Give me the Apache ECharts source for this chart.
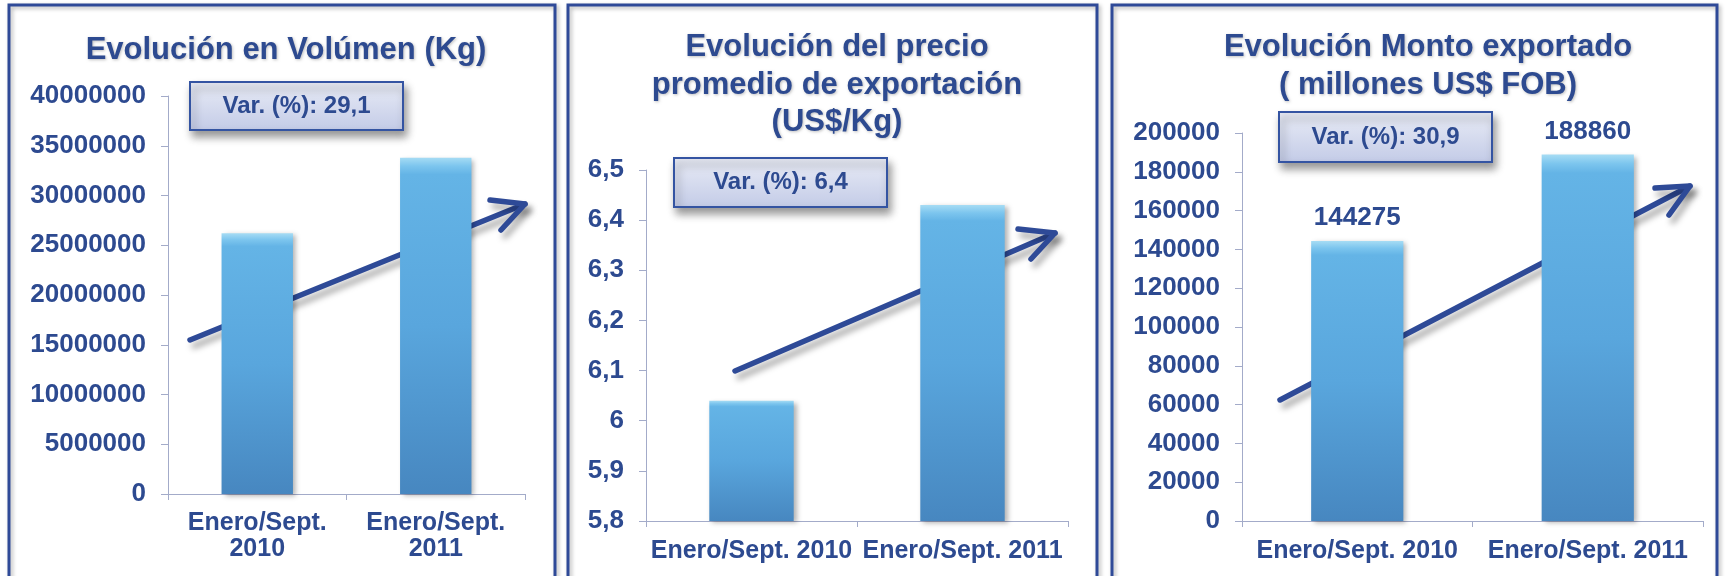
<!DOCTYPE html>
<html>
<head>
<meta charset="utf-8">
<script src="https://cdn.jsdelivr.net/npm/echarts@6/dist/echarts.min.js"></script>
<style>
html,body{margin:0;padding:0;background:#fff;}
#c{width:1726px;height:576px;}
</style>
</head>
<body>
<div id="c"></div>
<script>
// ---- data ----
const categoriesTwoLine = ['Enero/Sept.\n2010', 'Enero/Sept.\n2011'];
const categories = ['Enero/Sept. 2010', 'Enero/Sept. 2011'];
const volumenKg = [26200000, 33800000];
const precioUsdKg = [6.04, 6.43];
const montoUsd = [144275, 188860];
const varLabels = ['Var. (%): 29,1', 'Var. (%): 6,4', 'Var. (%): 30,9'];
const titles = [
  'Evolución en Volúmen (Kg)',
  'Evolución del precio\npromedio de exportación\n(US$/Kg)',
  'Evolución Monto exportado\n( millones US$ FOB)'
];

const FONT = '"Liberation Sans", Arial, sans-serif';
const TXT = '#2d4a90';
const FRAME = '#2f4a98';
const AXIS = '#a3abc9';

const barStyle = {
  color: new echarts.graphic.LinearGradient(0, 0, 0, 1, [
    {offset: 0, color: '#a6dcf4'},
    {offset: 0.025, color: '#7cc5ee'},
    {offset: 0.05, color: '#64b4e6'},
    {offset: 0.5, color: '#59a6dd'},
    {offset: 1, color: '#4787c0'}
  ]),
  shadowColor: 'rgba(0,0,0,0.3)',
  shadowBlur: 5,
  shadowOffsetX: 3,
  shadowOffsetY: 2
};

function yAxis(gi, min, max, interval, fmt) {
  return {
    type: 'value', gridIndex: gi, min: min, max: max, interval: interval,
    splitLine: {show: false},
    axisLine: {show: true, lineStyle: {color: AXIS, width: 1}},
    axisTick: {show: true, length: 7, lineStyle: {color: AXIS}},
    axisLabel: {color: TXT, fontFamily: FONT, fontWeight: 'bold', fontSize: 26, margin: 22, formatter: fmt}
  };
}
function xAxis(gi, data, lh, margin) {
  return {
    type: 'category', gridIndex: gi, data: data,
    axisLine: {show: true, lineStyle: {color: AXIS, width: 1}},
    axisTick: {show: true, length: 6, lineStyle: {color: AXIS}},
    axisLabel: {color: TXT, fontFamily: FONT, fontWeight: 'bold', fontSize: 25, lineHeight: lh, margin: margin, interval: 0}
  };
}
function frame(x1, x2) {
  return {type: 'rect', z: 1, shape: {x: x1, y: 5, width: x2 - x1, height: 600},
    style: {fill: 'none', stroke: FRAME, lineWidth: 3, shadowColor: 'rgba(0,0,0,0.3)', shadowBlur: 4, shadowOffsetX: 2, shadowOffsetY: 2}};
}
function varBox(x1, y1, x2, y2, text) {
  return {type: 'group', z: 20, children: [
    {type: 'rect', shape: {x: x1, y: y1, width: x2 - x1, height: y2 - y1},
      style: {fill: new echarts.graphic.LinearGradient(0, 0, 0, 1, [{offset: 0, color: '#e9ecf6'}, {offset: 1, color: '#c3cbe7'}]),
        stroke: '#3454a2', lineWidth: 2, shadowColor: 'rgba(0,0,0,0.4)', shadowBlur: 8, shadowOffsetX: 3, shadowOffsetY: 6}},
    {type: 'text', x: (x1 + x2) / 2, y: (y1 + y2) / 2,
      style: {text: text, fill: TXT, font: 'bold 24px ' + FONT, align: 'center', verticalAlign: 'middle'}}
  ]};
}
function arrow(s, t, h1, h2) {
  const st = {stroke: '#2e4a97', lineWidth: 5.5, lineCap: 'round', lineJoin: 'round', fill: 'none',
    shadowColor: 'rgba(0,0,0,0.35)', shadowBlur: 6, shadowOffsetX: 4, shadowOffsetY: 6};
  return {type: 'group', z: 30, children: [
    {type: 'polyline', shape: {points: [s, t]}, style: st},
    {type: 'polyline', shape: {points: [h1, t, h2]}, style: st}
  ]};
}
const titleStyle = {color: TXT, fontFamily: FONT, fontWeight: 'bold', fontSize: 31,
  textShadowColor: 'rgba(0,0,0,0.25)', textShadowBlur: 3, textShadowOffsetX: 1, textShadowOffsetY: 1};

const chart = echarts.init(document.getElementById('c'));
chart.setOption({
  backgroundColor: '#ffffff',
  animation: false,
  title: [
    {text: titles[0], left: 281, top: 27, textAlign: 'center', textStyle: Object.assign({lineHeight: 36}, titleStyle)},
    {text: titles[1], left: 832, top: 24, textAlign: 'center', textStyle: Object.assign({lineHeight: 37.5}, titleStyle)},
    {text: titles[2], left: 1423, top: 24, textAlign: 'center', textStyle: Object.assign({lineHeight: 37.5}, titleStyle)}
  ],
  grid: [
    {left: 168, top: 96, width: 357, height: 398},
    {left: 646, top: 170, width: 422, height: 351},
    {left: 1242, top: 133, width: 461, height: 388}
  ],
  xAxis: [
    xAxis(0, categoriesTwoLine, 26, 16),
    xAxis(1, categories, 26, 17),
    xAxis(2, categories, 26, 17)
  ],
  yAxis: [
    yAxis(0, 0, 40000000, 5000000, v => String(v)),
    yAxis(1, 5.8, 6.5, 0.1, v => String(Math.round(v * 10) / 10).replace('.', ',')),
    yAxis(2, 0, 200000, 20000, v => String(v))
  ],
  series: [
    {type: 'bar', xAxisIndex: 0, yAxisIndex: 0, data: volumenKg, barWidth: '40%', itemStyle: barStyle, z: 5},
    {type: 'bar', xAxisIndex: 1, yAxisIndex: 1, data: precioUsdKg, barWidth: '40%', itemStyle: barStyle, z: 5},
    {type: 'bar', xAxisIndex: 2, yAxisIndex: 2, data: montoUsd, barWidth: '40%', itemStyle: barStyle, z: 5,
      label: {show: true, position: 'top', distance: 10, color: TXT, fontFamily: FONT, fontWeight: 'bold', fontSize: 26}}
  ],
  graphic: [
    frame(9, 555), frame(568, 1097), frame(1112, 1717),
    varBox(190, 82, 403, 130, varLabels[0]),
    varBox(674, 158, 887, 207, varLabels[1]),
    varBox(1279, 112, 1492, 162, varLabels[2]),
    arrow([190, 340], [525, 204], [490, 200], [501, 230]),
    arrow([735, 371], [1055, 233], [1018, 229], [1031, 259]),
    arrow([1280, 400], [1690, 186], [1655, 188], [1669, 215])
  ]
});
</script>
</body>
</html>
